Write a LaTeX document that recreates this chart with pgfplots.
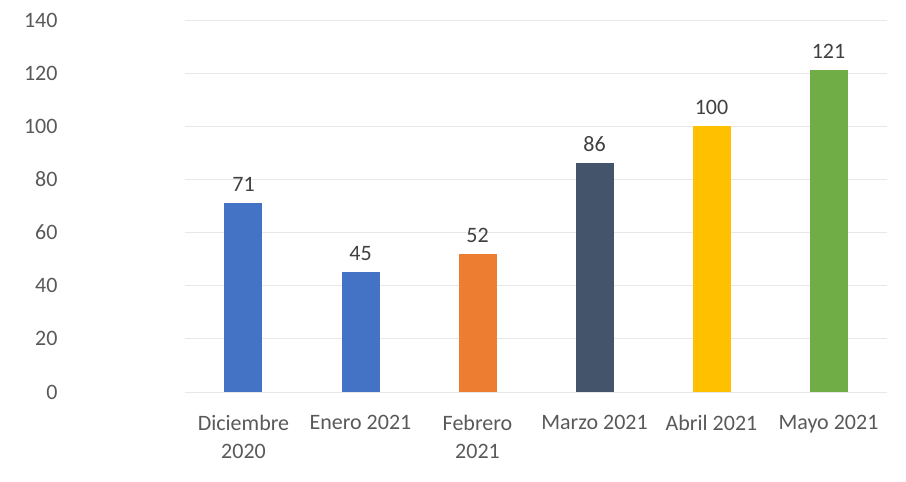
\documentclass[border=0pt]{standalone}
\usepackage{fontspec}
\setmainfont{Carlito}
\usepackage{pgfplots}
\pgfplotsset{compat=1.18}
\definecolor{cblue}{HTML}{4472C4}
\definecolor{corange}{HTML}{ED7D31}
\definecolor{cdark}{HTML}{44546A}
\definecolor{cyellow}{HTML}{FFC000}
\definecolor{cgreen}{HTML}{70AD47}
\definecolor{ctick}{HTML}{595959}
\definecolor{cval}{HTML}{404040}
\definecolor{cgrid}{HTML}{E8E8E8}
\begin{document}
\begin{tikzpicture}
\useasboundingbox (0,0) rectangle (906pt,482pt);
\begin{axis}[
  at={(185pt,90pt)}, anchor=south west,
  scale only axis, width=702pt, height=372pt,
  ybar, bar width=38pt, bar shift=0pt,
  ymin=0, ymax=140, ytick={0,20,...,140},
  xmin=-0.5, xmax=5.5, xtick={0,1,2,3,4,5},
  xticklabels={{Diciembre\\2020},{Enero 2021},{Febrero\\2021},{Marzo 2021},{Abril 2021},{Mayo 2021}},
  axis line style={draw=none},
  major tick length=0pt,
  ymajorgrids, grid style={cgrid, line width=0.8pt},
  tick label style={font=\fontsize{22}{28}\selectfont, text=ctick},
  /pgf/number format/assume math mode=true,
  yticklabel style={anchor=east, xshift=-124pt},
  xticklabel style={align=center, anchor=north, yshift=-20pt},
  nodes near coords,
  every node near coord/.append style={font=\fontsize{22}{24}\selectfont, text=cval, yshift=8pt},
]
\addplot[fill=cblue, draw=none] coordinates {(0,71)};
\addplot[fill=cblue, draw=none] coordinates {(1,45)};
\addplot[fill=corange, draw=none] coordinates {(2,52)};
\addplot[fill=cdark, draw=none] coordinates {(3,86)};
\addplot[fill=cyellow, draw=none] coordinates {(4,100)};
\addplot[fill=cgreen, draw=none] coordinates {(5,121)};
\end{axis}
\end{tikzpicture}
\end{document}
